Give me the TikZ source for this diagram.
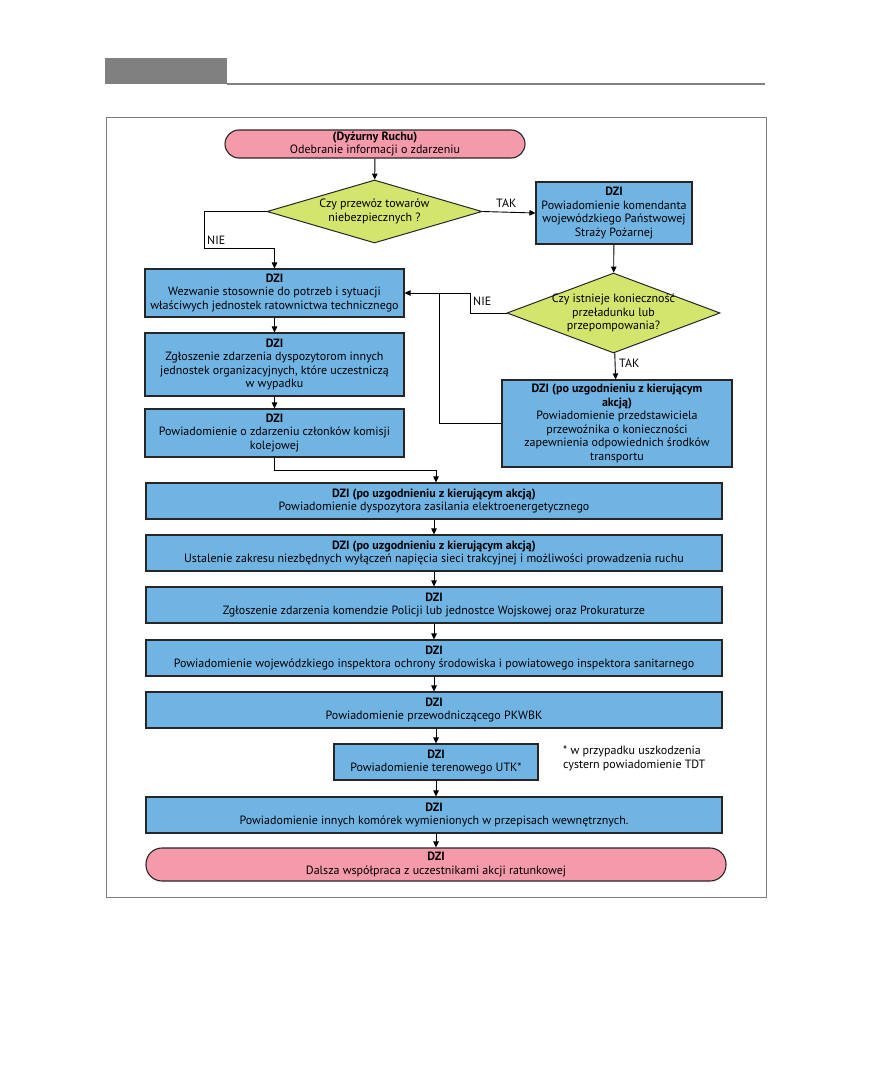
\documentclass[tikz,border=0pt]{standalone}
\usepackage{fontspec}
\setmainfont{PT Sans}
\usetikzlibrary{arrows.meta}
\usetikzlibrary{shapes.geometric}

\definecolor{boxblue}{RGB}{112,180,228}
\definecolor{startpink}{RGB}{245,154,170}
\definecolor{askgreen}{RGB}{212,229,110}
\definecolor{framegray}{RGB}{125,125,125}

\tikzset{
	dzibox/.style={draw=black!85, line width=1.1pt, fill=boxblue, align=center, inner sep=1pt,
		font=\fontsize{12}{13.5}\selectfont},
	startbox/.style={dzibox, fill=startpink, rounded corners=14pt},
	askbox/.style={draw=black!85, line width=1pt, fill=askgreen, shape=diamond, align=center, inner sep=0pt,
		font=\fontsize{12}{13.5}\selectfont},
	flow/.style={-{Triangle[length=6pt,width=5.5pt]}, line width=.9pt},
	flowlabel/.style={font=\fontsize{12}{13.5}\selectfont, inner sep=0pt}
}

\begin{document}
\begin{tikzpicture}[x=1pt, y=-1pt]
	\useasboundingbox (0,0) rectangle (872,1092);
	% page header and frame
	\fill[gray] (105,58) rectangle (227,84);
	\draw[gray, line width=1.2pt] (227,84) -- (765,84);
	\draw[framegray, line width=1pt] (106,117) rectangle (766,897);

	\node[startbox, minimum width=300pt, minimum height=28pt] (start) at (375,144)
		{\textbf{(Dyżurny Ruchu)}\\Odebranie informacji o zdarzeniu};
	\node[askbox, aspect=3.4, inner xsep=-8pt, minimum width=215pt, minimum height=63pt] (czyNiebezp) at (374.5,211.5)
		{Czy przewóz towarów\\niebezpiecznych ?};
	\node[dzibox, minimum width=156pt, minimum height=62pt] (psp) at (614,213)
		{\textbf{DZI}\\Powiadomienie komendanta\\wojewódzkiego Państwowej\\Straży Pożarnej};
	\node[askbox, aspect=2.66, inner xsep=-18pt, minimum width=213pt, minimum height=80pt] (czyPrzeladunek) at (613.5,313)
		{Czy istnieje konieczność\\przeładunku lub\\przepompowania?};
	\node[dzibox, minimum width=230pt, minimum height=87pt] (przewoznik) at (617,423.5)
		{\textbf{DZI (po uzgodnieniu z kierującym}\\\textbf{akcją)}\\Powiadomienie przedstawiciela\\przewoźnika o konieczności\\zapewnienia odpowiednich środków\\transportu};

	\node[dzibox, minimum width=259pt, minimum height=48pt] (ratownictwo) at (274.5,293)
		{\textbf{DZI}\\Wezwanie stosownie do potrzeb i sytuacji\\właściwych jednostek ratownictwa technicznego};
	\node[dzibox, minimum width=259pt, minimum height=63pt] (dyspozytorzy) at (274.5,364.5)
		{\textbf{DZI}\\Zgłoszenie zdarzenia dyspozytorom innych\\jednostek organizacyjnych, które uczestniczą\\w wypadku};
	\node[dzibox, minimum width=259pt, minimum height=48pt] (komisja) at (274.5,433)
		{\textbf{DZI}\\Powiadomienie o zdarzeniu członków komisji\\kolejowej};

	\node[dzibox, minimum width=576pt, minimum height=36pt] (zasilanie) at (434,501)
		{\textbf{DZI (po uzgodnieniu z kierującym akcją)}\\Powiadomienie dyspozytora zasilania elektroenergetycznego};
	\node[dzibox, minimum width=576pt, minimum height=36pt] (wylaczenia) at (434,553)
		{\textbf{DZI (po uzgodnieniu z kierującym akcją)}\\Ustalenie zakresu niezbędnych wyłączeń napięcia sieci trakcyjnej i możliwości prowadzenia ruchu};
	\node[dzibox, minimum width=576pt, minimum height=36pt] (policja) at (434,605)
		{\textbf{DZI}\\Zgłoszenie zdarzenia komendzie Policji lub jednostce Wojskowej oraz Prokuraturze};
	\node[dzibox, minimum width=576pt, minimum height=36pt] (inspektor) at (434,658)
		{\textbf{DZI}\\Powiadomienie wojewódzkiego inspektora ochrony środowiska i powiatowego inspektora sanitarnego};
	\node[dzibox, minimum width=576pt, minimum height=36pt] (pkwbk) at (434,710)
		{\textbf{DZI}\\Powiadomienie przewodniczącego PKWBK};
	\node[dzibox, minimum width=204pt, minimum height=36pt] (utk) at (436,762)
		{\textbf{DZI}\\Powiadomienie terenowego UTK*};
	\node[flowlabel, align=left, anchor=north west] (przypis) at (563,746)
		{* w przypadku uszkodzenia\\cystern powiadomienie TDT};
	\node[dzibox, minimum width=576pt, minimum height=36pt] (inne) at (434,815)
		{\textbf{DZI}\\Powiadomienie innych komórek wymienionych w przepisach wewnętrznych.};
	\node[startbox, minimum width=580pt, minimum height=33pt, rounded corners=16pt] (dalsza) at (436,864.5)
		{\textbf{DZI}\\Dalsza współpraca z uczestnikami akcji ratunkowej};

	\coordinate (nieA) at (204,248);
	\coordinate (nieB) at (470,293);
	\coordinate (wracaj) at (439,293);
	\coordinate (zbieg) at (436,470);

	\draw[flow] (start) -- (czyNiebezp);
	\draw[flow] (czyNiebezp.east) -- (psp.west);
	\node[flowlabel, anchor=south west] at (496,208) {TAK};
	\draw[flow] (czyNiebezp.west) -| (nieA) -| (ratownictwo.north);
	\node[flowlabel, anchor=south west] at (207,245) {NIE};
	\draw[flow] (psp) -- (czyPrzeladunek);
	\draw[flow] (czyPrzeladunek.west) -| (nieB) -- (ratownictwo.east);
	\node[flowlabel, anchor=south west] at (473,306) {NIE};
	\draw[flow] (czyPrzeladunek) -- (przewoznik);
	\node[flowlabel, anchor=south west] at (619,368) {TAK};
	\draw[line width=.9pt] (przewoznik.west) -| (wracaj);

	\draw[flow] (ratownictwo) -- (dyspozytorzy);
	\draw[flow] (dyspozytorzy) -- (komisja);
	\draw[flow] (komisja.south) |- (zbieg) -- (zasilanie.north -| zbieg);
	\draw[flow] (zasilanie) -- (wylaczenia);
	\draw[flow] (wylaczenia) -- (policja);
	\draw[flow] (policja) -- (inspektor);
	\draw[flow] (inspektor) -- (pkwbk);
	\draw[flow] (pkwbk.south -| utk) -- (utk);
	\draw[flow] (utk) -- (inne.north -| utk);
	\draw[flow] (inne.south -| utk) -- (dalsza);
\end{tikzpicture}
\end{document}
